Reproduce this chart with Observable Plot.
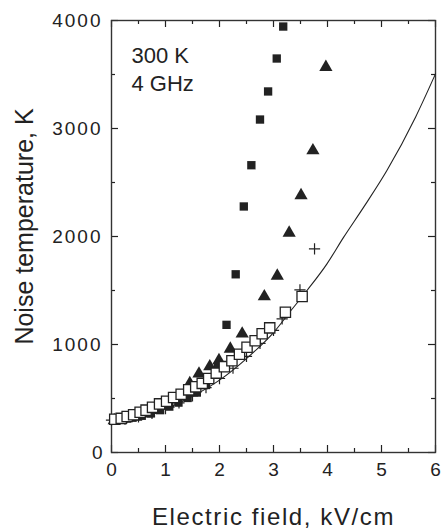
<!DOCTYPE html>
<html>
<head>
<meta charset="utf-8">
<script src="https://cdn.jsdelivr.net/npm/d3@7"></script>
<script src="https://cdn.jsdelivr.net/npm/@observablehq/plot@0.6"></script>
<style>
  html, body { margin: 0; padding: 0; background: #fff; }
</style>
</head>
<body>
<div id="chart"></div>
<script>
// Axis ticks
const xMajor = [0, 1, 2, 3, 4, 5, 6];
const xMinor = [0.5, 1.5, 2.5, 3.5, 4.5, 5.5];
const yMajor = [0, 1000, 2000, 3000, 4000];
const yMinor = [500, 1500, 2500, 3500];

const xLabel = "Electric field, kV/cm";
const yLabel = "Noise temperature, K";
const noteText = "300 K\n4 GHz";

// Open squares
const openX = [0.06,0.18,0.29,0.41,0.53,0.64,0.76,0.89,1.02,1.15,1.29,1.43,1.56,1.68,1.80,1.94,2.09,2.23,2.37,2.51,2.66,2.79,2.93,3.22,3.53];
const openY = [308,316,333,350,372,392,418,450,474,510,540,580,608,640,685,735,795,850,910,975,1035,1099,1154,1299,1444];

// Filled squares
const sqX = [0.05,0.22,0.39,0.56,0.73,0.90,1.07,1.24,1.41,1.58,1.75,1.97,2.13,2.30,2.45,2.59,2.75,2.90,3.06,3.18];
const sqY = [300,308,322,340,362,392,425,462,505,555,625,800,1182,1650,2278,2660,3083,3343,3648,3944];

// Filled triangles
const triX = [0.05,0.25,0.45,0.65,0.85,1.05,1.25,1.45,1.62,1.82,1.99,2.20,2.42,2.83,3.07,3.29,3.51,3.73,3.97];
const triY = [298,310,330,360,400,450,520,640,729,796,852,960,1099,1444,1635,2034,2380,2796,3568];

// Crosses
const plusX = [0.00,0.25,0.50,0.75,1.00,1.25,1.50,1.75,2.00,2.25,2.50,2.75,3.00,3.16,3.49,3.76];
const plusY = [300,310,330,362,405,460,525,600,685,780,890,1010,1130,1238,1506,1886];

// Theory curve
const lineX = [0,0.5,1.0,1.5,2.0,2.5,3.0,3.35,3.62,3.99,4.3,4.67,5.1,5.63,6.0];
const lineY = [300,330,405,520,670,870,1110,1331,1500,1747,1994,2272,2611,3105,3506];

const zip = (xs, ys) => xs.map((x, i) => ({x, y: ys[i]}));
const openData = zip(openX, openY);
const sqData = zip(sqX, sqY);
const triData = zip(triX, triY);
const plusData = zip(plusX, plusY);
const lineData = zip(lineX, lineY);

const ink = "#222";
const frameW = 442 - 111 - 7;   // 324
const frameH = 531 - 20 - 79;   // 432
const major = 7, minor = 4;

const svg = Plot.plot({
  width: 442,
  height: 531,
  marginLeft: 111,
  marginRight: 7,
  marginTop: 20,
  marginBottom: 79,
  x: {domain: [0, 6]},
  y: {domain: [0, 4000]},
  style: {fontFamily: "'Liberation Sans', Arial, sans-serif", color: ink, background: "#fff", overflow: "visible"},
  marks: [
    Plot.axisX({ticks: xMajor, tickSize: 0, tickPadding: 10, fontSize: 19, label: null, tickFormat: d => String(d)}),
    Plot.axisY({ticks: yMajor, tickSize: 0, tickPadding: 9, fontSize: 19, label: null, tickFormat: d => String(d)}),
    // inward ticks: bottom / top
    Plot.tickX(xMajor, {x: d => d, insetTop: frameH - major, stroke: ink, strokeWidth: 1.2}),
    Plot.tickX(xMinor, {x: d => d, insetTop: frameH - minor, stroke: ink, strokeWidth: 1.2}),
    Plot.tickX(xMajor, {x: d => d, insetBottom: frameH - major, stroke: ink, strokeWidth: 1.2}),
    Plot.tickX(xMinor, {x: d => d, insetBottom: frameH - minor, stroke: ink, strokeWidth: 1.2}),
    // inward ticks: left / right
    Plot.tickY(yMajor, {y: d => d, insetRight: frameW - major, stroke: ink, strokeWidth: 1.2}),
    Plot.tickY(yMinor, {y: d => d, insetRight: frameW - minor, stroke: ink, strokeWidth: 1.2}),
    Plot.tickY(yMajor, {y: d => d, insetLeft: frameW - major, stroke: ink, strokeWidth: 1.2}),
    Plot.tickY(yMinor, {y: d => d, insetLeft: frameW - minor, stroke: ink, strokeWidth: 1.2}),
    Plot.frame({stroke: "#333", strokeWidth: 1.4}),
    // curve
    Plot.line(lineData, {x: "x", y: "y", curve: "monotone-x", stroke: ink, strokeWidth: 1.1}),
    // markers
    Plot.dot(sqData, {x: "x", y: "y", symbol: "square", r: 4.7, fill: ink, stroke: "none"}),
    Plot.dot(triData, {x: "x", y: "y", symbol: "triangle", r: 4.9, fill: ink, stroke: "none"}),
    Plot.dot(plusData, {x: "x", y: "y", symbol: "plus", r: 3.7, fill: "none", stroke: ink, strokeWidth: 1.2}),
    Plot.dot(openData, {x: "x", y: "y", symbol: "square", r: 5.8, fill: "#fff", stroke: ink, strokeWidth: 1.3}),
    // annotation
    Plot.text([noteText], {frameAnchor: "top-left", text: d => d, dx: 20, dy: 23, lineAnchor: "top", textAnchor: "start", fontSize: 22, lineHeight: 1.27, fill: ink}),
    // axis titles
    Plot.text([xLabel], {frameAnchor: "bottom", text: d => d, dy: 72, lineAnchor: "bottom", textAnchor: "middle", fontSize: 24, fill: ink}),
    Plot.text([yLabel], {frameAnchor: "left", text: d => d, dx: -79, dy: -10, rotate: -90, lineAnchor: "bottom", textAnchor: "middle", fontSize: 25, fill: ink})
  ]
});

document.getElementById("chart").appendChild(svg);

// widen lettering to match the reference typeface
d3.select(svg).selectAll("text").each(function() {
  const t = this.textContent;
  if (t === xLabel) d3.select(this).style("letter-spacing", "1.6px");
  else if (/^\d{4}$/.test(t)) d3.select(this).style("letter-spacing", "2px");
});
</script>
</body>
</html>
